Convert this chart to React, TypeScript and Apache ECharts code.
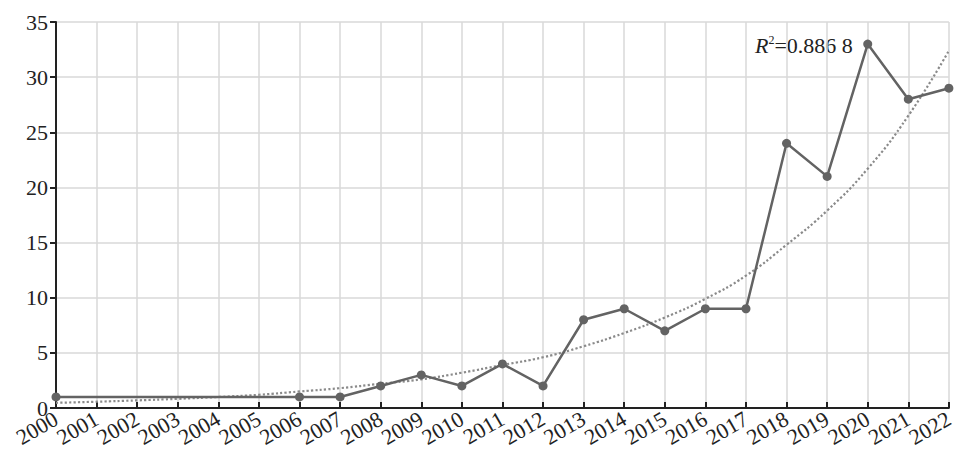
import React, { useEffect, useRef } from "react";
import * as echarts from "echarts";

const years = ["2000","2001","2002","2003","2004","2005","2006","2007","2008","2009","2010","2011","2012","2013","2014","2015","2016","2017","2018","2019","2020","2021","2022"];
const counts: (number | null)[] = [1, null, null, null, null, null, 1, 1, 2, 3, 2, 4, 2, 8, 9, 7, 9, 9, 24, 21, 33, 28, 29];
const trend = [0.47, 0.57, 0.69, 0.83, 1.0, 1.2, 1.5, 1.8, 2.2, 2.6, 3.2, 3.9, 4.6, 5.6, 6.8, 8.2, 9.9, 12.0, 14.8, 17.9, 21.7, 26.5, 32.4];
const yTicks = { min: 0, max: 35, interval: 5 };
const r2Label = "=0.886 8";

const FONT = "'Liberation Serif', 'Times New Roman', 'DejaVu Serif', serif";

export default function App() {
  const ref = useRef<HTMLDivElement>(null);
  useEffect(() => {
    document.body.style.margin = "0";
    const chart = echarts.init(ref.current!, null, { renderer: "svg" });
    chart.setOption({
      animation: false,
      backgroundColor: "#ffffff",
      textStyle: { fontFamily: FONT },
      grid: { left: 56, right: 5, top: 22, bottom: 48, containLabel: false },
      xAxis: {
        type: "category",
        data: years,
        boundaryGap: false,
        axisLine: { lineStyle: { color: "#222", width: 2 } },
        axisTick: { inside: true, length: 6, lineStyle: { color: "#222", width: 2 } },
        axisLabel: { rotate: 30, fontFamily: FONT, fontSize: 22, color: "#222", margin: 9, interval: 0 },
        splitLine: { show: true, showMinLine: false, lineStyle: { color: "#d9d9d9", width: 1.5 } },
      },
      yAxis: {
        type: "value",
        min: yTicks.min,
        max: yTicks.max,
        interval: yTicks.interval,
        axisLine: { show: true, lineStyle: { color: "#222", width: 2 } },
        axisTick: { show: true, length: 6, lineStyle: { color: "#222", width: 2 } },
        axisLabel: { fontFamily: FONT, fontSize: 22, color: "#222", margin: 8 },
        splitLine: { show: true, showMinLine: false, lineStyle: { color: "#d9d9d9", width: 1.5 } },
      },
      series: [
        {
          type: "line",
          data: trend,
          showSymbol: false,
          smooth: true,
          z: 1,
          lineStyle: { type: "dotted", color: "#8a8a8a", width: 2.2 },
        },
        {
          type: "line",
          data: counts,
          connectNulls: true,
          symbol: "circle",
          symbolSize: 9,
          z: 2,
          itemStyle: { color: "#636363" },
          lineStyle: { color: "#636363", width: 2.5 },
        },
      ],
      graphic: [
        {
          type: "text",
          left: 755,
          top: 34,
          style: {
            text: "{i|R}{s|2}{n|" + r2Label + "}",
            rich: {
              i: { fontFamily: FONT, fontSize: 22, fontStyle: "italic", fill: "#222" },
              s: { fontFamily: FONT, fontSize: 12, fill: "#222", verticalAlign: "top" },
              n: { fontFamily: FONT, fontSize: 22, fill: "#222" },
            },
          },
        },
      ],
    });
    return () => chart.dispose();
  }, []);
  return <div ref={ref} style={{ position: "fixed", left: 0, top: 0, width: 957, height: 456 }} />;
}
